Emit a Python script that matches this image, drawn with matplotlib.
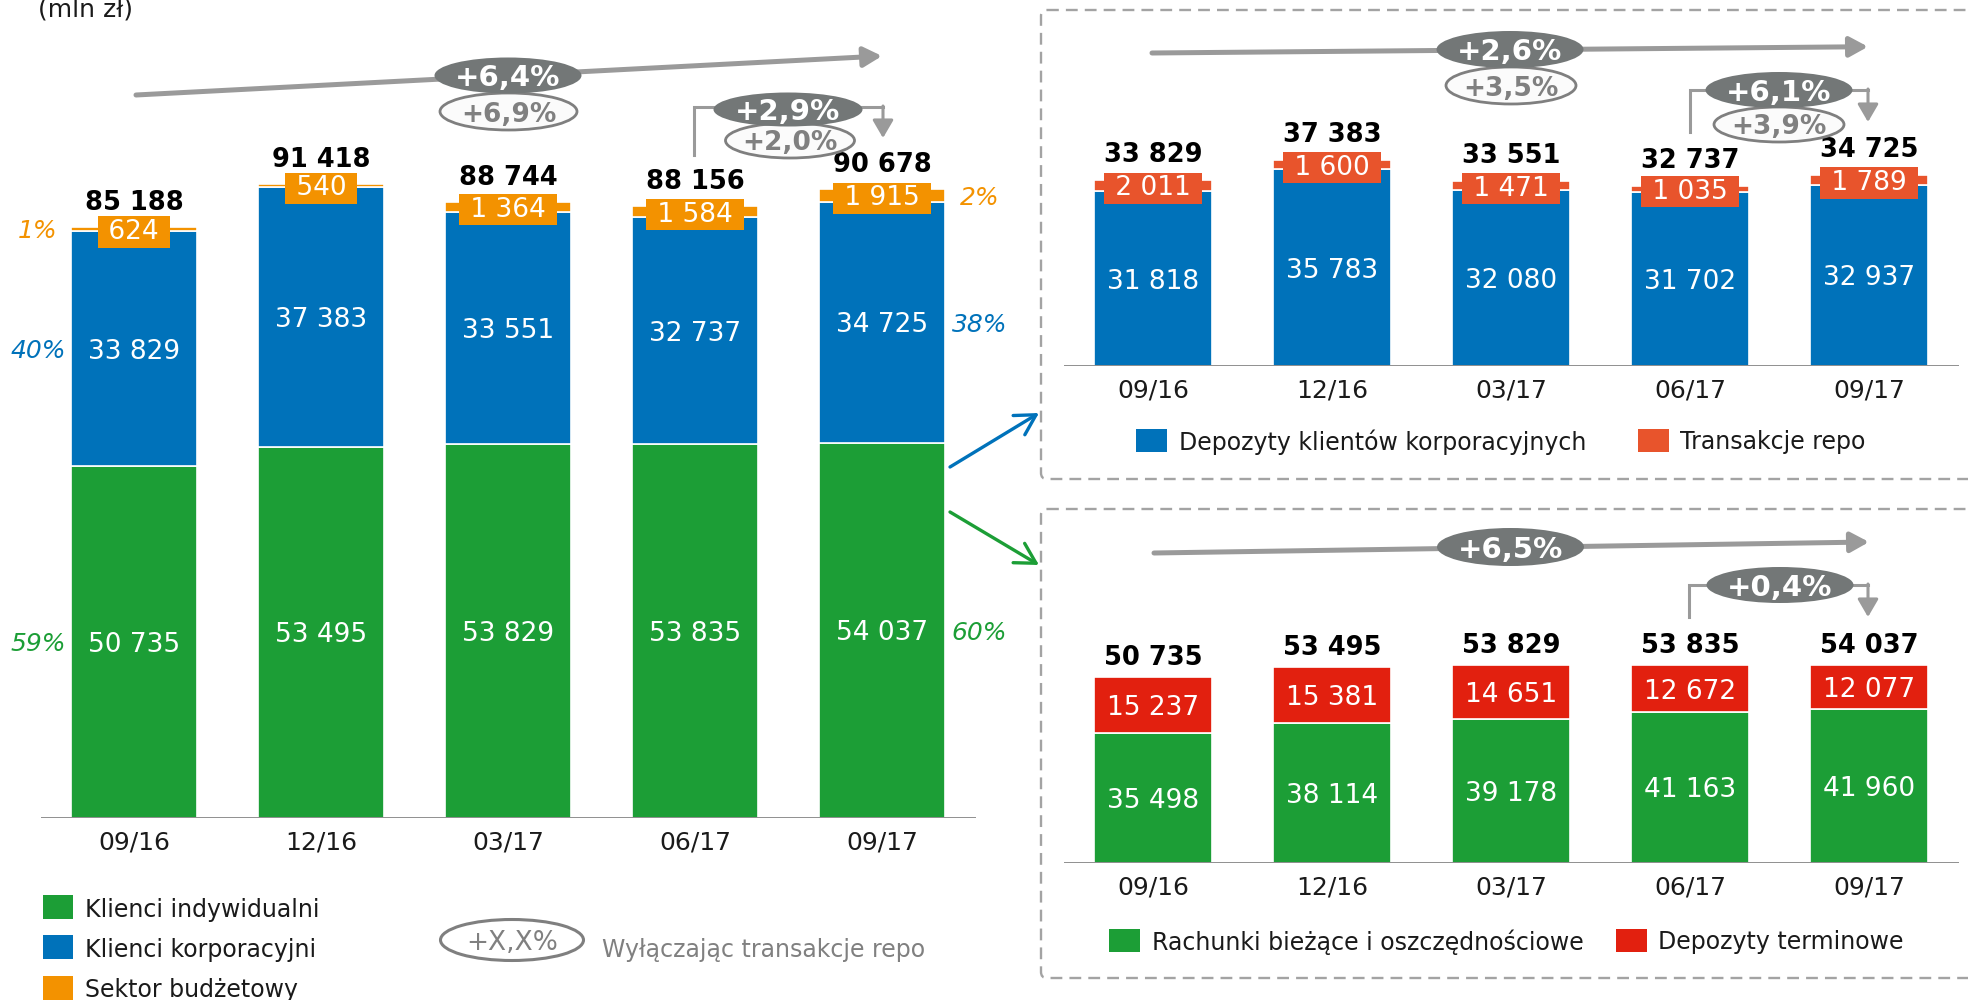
import numpy as np
import matplotlib
matplotlib.use("Agg")
import matplotlib.pyplot as plt
from matplotlib.patches import Ellipse, Rectangle, FancyBboxPatch

plt.rcParams['font.family'] = ['DejaVu Sans']

W, H = 1968, 1000

periods = ['09/16', '12/16', '03/17', '06/17', '09/17']

# deposits by client segment (mln zł)
individual = [50735, 53495, 53829, 53835, 54037]
corporate = [33829, 37383, 33551, 32737, 34725]
budget = [624, 540, 1364, 1584, 1915]
left_totals = [85188, 91418, 88744, 88156, 90678]
shares_first = ['59%', '40%', '1%']
shares_last = ['60%', '38%', '2%']

# corporate clients breakdown
corp_deposits = [31818, 35783, 32080, 31702, 32937]
repo = [2011, 1600, 1471, 1035, 1789]
corp_totals = [33829, 37383, 33551, 32737, 34725]

# individual clients breakdown
current_savings = [35498, 38114, 39178, 41163, 41960]
term_deposits = [15237, 15381, 14651, 12672, 12077]
ind_totals = [50735, 53495, 53829, 53835, 54037]

# growth badges (y/y and q/q, second one excluding repo)
left_yoy, left_yoy_ex = '+6,4%', '+6,9%'
left_qoq, left_qoq_ex = '+2,9%', '+2,0%'
corp_yoy, corp_yoy_ex = '+2,6%', '+3,5%'
corp_qoq, corp_qoq_ex = '+6,1%', '+3,9%'
ind_yoy, ind_qoq = '+6,5%', '+0,4%'

GREEN = '#1c9e36'
BLUE = '#0072ba'
ORANGE = '#f39200'
REPO = '#e8542c'
RED = '#e2200f'
DARK = '#737777'
GRAY = '#9a9a9a'
TXT = '#1a1a1a'


def fmt(v):
    return f"{int(v):,}".replace(",", " ")


fig = plt.figure(figsize=(W / 100, H / 100), dpi=100)


def px_axes(left, right, base, top):
    return fig.add_axes([left / W, 1 - base / H, (right - left) / W, (base - top) / H])


def stacked(ax, layers, colors, boxed, totals, width, px_per_unit, height_px, gap):
    x = np.arange(len(periods))
    ax.set_xlim(-0.5, len(periods) - 0.5)
    ax.set_ylim(0, height_px / px_per_unit)
    bottom = np.zeros(len(x))
    bottoms = []
    for k, (vals, c) in enumerate(zip(layers, colors)):
        vals = np.array(vals, dtype=float)
        ax.bar(x, vals, width, bottom=bottom, color=c, edgecolor='white', linewidth=1.2)
        bottoms.append(bottom.copy())
        for xi, b, v in zip(x, bottom, vals):
            if k == boxed:
                ax.text(xi, b + v / 2, ' ' + fmt(v) + ' ', ha='center', va='center_baseline',
                        color='white', fontsize=19,
                        bbox=dict(boxstyle='square,pad=0.1', fc=c, ec='none'))
            else:
                ax.text(xi, b + v / 2, fmt(v), ha='center', va='center_baseline',
                        color='white', fontsize=19)
        bottom = bottom + vals
    for xi, top, tot in zip(x, bottom, totals):
        ax.annotate(fmt(tot), (xi, top), xytext=(0, gap), textcoords='offset pixels',
                    ha='center', va='center_baseline', fontsize=18.5, fontweight='bold',
                    color='black')
    ax.axhline(0, color='#858585', lw=2)
    ax.set_xticks(x, periods)
    ax.tick_params(axis='x', length=0, pad=9, labelsize=18, labelcolor=TXT)
    ax.set_yticks([])
    for s in ax.spines.values():
        s.set_visible(False)
    ax.patch.set_visible(False)
    return bottoms


# left main chart
ax1 = px_axes(40.5, 975.5, 818, 0)
left_layers = [individual, corporate, budget]
left_colors = [GREEN, BLUE, ORANGE]
bts = stacked(ax1, left_layers, left_colors, 2, left_totals, 0.67, 0.00694, 818, 27)
for k, (vals, c) in enumerate(zip(left_layers, left_colors)):
    ax1.text(-0.513, bts[k][0] + vals[0] / 2, shares_first[k], ha='center', va='center_baseline',
             color=c, fontsize=18, style='italic')
    ax1.text(4.52, bts[k][-1] + vals[-1] / 2, shares_last[k], ha='center', va='center_baseline',
             color=c, fontsize=18, style='italic')

# top right: corporate
ax2 = px_axes(1063.5, 1958.5, 366, 10)
stacked(ax2, [corp_deposits, repo], [BLUE, REPO], 1, corp_totals, 0.66, 0.0055, 356, 28)

# bottom right: individual
ax3 = px_axes(1063.5, 1958.5, 863, 510)
stacked(ax3, [current_savings, term_deposits], [GREEN, RED], None, ind_totals,
        0.66, 0.00367, 353, 22)

# overlay in pixel coordinates for decorations
ov = fig.add_axes([0, 0, 1, 1], zorder=5)
ov.set_xlim(0, W)
ov.set_ylim(H, 0)
ov.axis('off')


def badge(x, y, w, h, text, dark=True):
    if dark:
        ov.add_patch(Ellipse((x, y), w, h, fc=DARK, ec='none', zorder=4))
        ov.text(x, y, text, color='white', fontsize=21, fontweight='bold',
                ha='center', va='center_baseline', zorder=5)
    else:
        ov.add_patch(Ellipse((x, y), w, h, fc='#fbfbfb', ec='#7f7f7f', lw=2, zorder=3))
        ov.text(x, y, text, color='#808080', fontsize=19, fontweight='bold',
                ha='center', va='center_baseline', zorder=3.5)


def trend(x0, y0, x1, y1):
    ov.annotate('', xy=(x1, y1), xytext=(x0, y0), zorder=2,
                arrowprops=dict(arrowstyle='-|>,head_length=0.55,head_width=0.3',
                                mutation_scale=20, color=GRAY, lw=3.6,
                                shrinkA=0, shrinkB=0))


def bracket(x0, y0, ytop, x1, ytip):
    ov.plot([x0, x0, x1], [y0, ytop, ytop], color=GRAY, lw=2.2, zorder=2,
            solid_joinstyle='miter')
    ov.annotate('', xy=(x1, ytip), xytext=(x1, ytop - 1), zorder=2,
                arrowprops=dict(arrowstyle='-|>,head_length=0.6,head_width=0.35',
                                mutation_scale=18, color=GRAY, lw=2.2,
                                shrinkA=0, shrinkB=0))


# left badges
trend(136, 95, 882, 56)
badge(508.5, 111.5, 137, 37, left_yoy_ex, dark=False)
badge(508, 75.5, 147, 36, left_yoy)
bracket(694, 155, 107, 883, 138)
badge(790, 140.5, 129, 35, left_qoq_ex, dark=False)
badge(788, 109.5, 149, 34, left_qoq)

# corporate badges
trend(1152, 53, 1868, 46.7)
badge(1511, 85.5, 130, 37, corp_yoy_ex, dark=False)
badge(1510, 49.5, 147, 37, corp_yoy)
bracket(1690, 132, 90, 1868, 122)
badge(1779, 124.5, 130, 35, corp_qoq_ex, dark=False)
badge(1779, 90, 147, 36, corp_qoq)

# individual badges
trend(1154, 553, 1869, 542)
badge(1510.5, 547, 147, 38, ind_yoy)
bracket(1689, 617, 585, 1868, 617)
badge(1780, 585, 147, 36, ind_qoq)

# dashed frames
for y0 in (10, 509):
    ov.add_patch(FancyBboxPatch((1041, y0), 960, 469, boxstyle='round,pad=0,rounding_size=6',
                                fill=False, ec='#a3a3a3', lw=1.7, ls=(0, (5, 3)), zorder=1))

# connector arrows
for (x0, y0, x1, y1, c) in [(950, 467, 1039, 413, BLUE), (950, 512, 1039, 565, GREEN)]:
    ov.annotate('', xy=(x1, y1), xytext=(x0, y0), zorder=2,
                arrowprops=dict(arrowstyle='->,head_length=0.8,head_width=0.45',
                                mutation_scale=18, color=c, lw=2.4, shrinkA=0, shrinkB=0))

# legends
ov.text(38, 10, '(mln zł)', fontsize=18, color=TXT, ha='left', va='center')

left_legend = ['Klienci indywidualni', 'Klienci korporacyjni', 'Sektor budżetowy']
for name, c, y in zip(left_legend, left_colors, [907, 947, 988]):
    ov.add_patch(Rectangle((43, y - 12), 30, 24, fc=c, ec='none'))
    ov.text(85, y, name, fontsize=17, color=TXT, ha='left', va='center_baseline')

ov.add_patch(Ellipse((512, 940), 143, 41, fc='white', ec='#7f7f7f', lw=2.2))
ov.text(512, 940, '+X,X%', fontsize=19, color='#808080', ha='center', va='center_baseline')
ov.text(602, 947, 'Wyłączając transakcje repo', fontsize=17, color='#808080',
        ha='left', va='center_baseline')

for (sx, tx, y, c, name) in [(1136, 1179, 440, BLUE, 'Depozyty klientów korporacyjnych'),
                             (1638, 1680, 440, REPO, 'Transakcje repo'),
                             (1109, 1152, 940, GREEN, 'Rachunki bieżące i oszczędnościowe'),
                             (1616, 1658, 940, RED, 'Depozyty terminowe')]:
    ov.add_patch(Rectangle((sx, y - 11.5), 31, 23, fc=c, ec='none'))
    ov.text(tx, y, name, fontsize=17, color=TXT, ha='left', va='center_baseline')

fig.savefig('out.png', dpi=100)
